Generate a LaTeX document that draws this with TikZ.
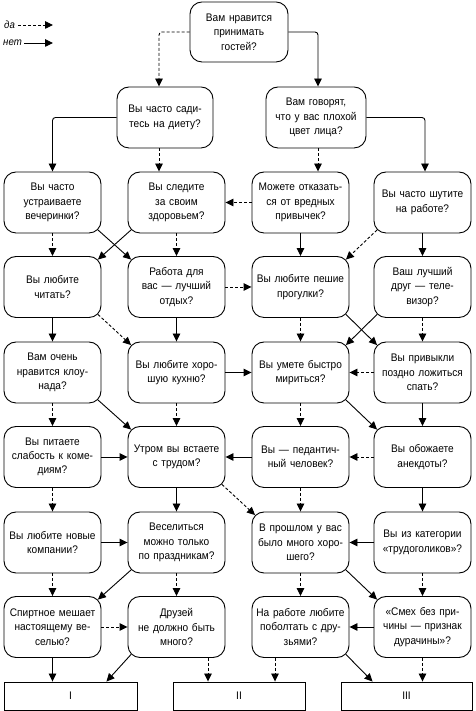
\documentclass[tikz,border=0pt]{standalone}
\usepackage{fontspec}
\setmainfont{Liberation Sans}[FakeStretch=0.92,WordSpace=1.35]
\usetikzlibrary{arrows.meta,calc}
\begin{document}
\begin{tikzpicture}[x=1pt,y=1pt,
  q/.style={draw,line width=0.9pt,rounded corners=12pt,minimum width=97pt,minimum height=61pt,align=center,inner sep=0pt,font=\fontsize{11}{14.3}\selectfont},
  res/.style={draw,line width=0.9pt,minimum height=28pt,inner sep=0pt,font=\fontsize{11}{14}\selectfont},
  con/.style={line width=0.9pt,rounded corners=3pt,-{Triangle[length=8pt,width=7.5pt]}},
  yes/.style={con,dash pattern=on 3pt off 2pt},
  no/.style={con},
  leg/.style={font=\fontsize{10.5}{12}\itshape,inner sep=0pt,anchor=west},
]
\useasboundingbox (0,0) rectangle (475,711);
% legend
\node[leg] (da) at (4,686) {да};
\coordinate (daE) at (53,686);
\node[leg] (net) at (3,668) {нет};
\coordinate (netE) at (53,668);
\draw[yes] ([xshift=3pt]da.east) -- (daE);
\draw[no] ([xshift=2pt]net.east) -- (netE);
% top
\node[q,minimum width=98pt,minimum height=60pt] (top) at (239,679) {Вам нравится\\принимать\\гостей?};
\node[q,minimum width=96pt] (b1) at (165,593.5) {Вы часто сади-\\тесь на диету?};
\node[q,minimum width=100pt] (b2) at (316,593.5) {Вам говорят,\\что у вас плохой\\цвет лица?};
% row 1
\node[q] (r1c1) at (52.5,508.5) {Вы часто\\устраиваете\\вечеринки?};
\node[q] (r1c2) at (176.5,508.5) {Вы следите\\за своим\\здоровьем?};
\node[q] (r1c3) at (300.5,508.5) {Можете отказать-\\ся от вредных\\привычек?};
\node[q] (r1c4) at (422.5,508.5) {Вы часто шутите\\на работе?};
% row 2
\node[q] (r2c1) at (52.5,424) {Вы любите\\читать?};
\node[q] (r2c2) at (176.5,424) {Работа для\\вас — лучший\\отдых?};
\node[q] (r2c3) at (300.5,424) {Вы любите пешие\\прогулки?};
\node[q] (r2c4) at (422.5,424) {Ваш лучший\\друг — теле-\\визор?};
% row 3
\node[q] (r3c1) at (52.5,338.5) {Вам очень\\нравится клоу-\\нада?};
\node[q] (r3c2) at (176.5,338.5) {Вы любите хоро-\\шую кухню?};
\node[q] (r3c3) at (300.5,338.5) {Вы умете быстро\\мириться?};
\node[q] (r3c4) at (422.5,338.5) {Вы привыкли\\поздно ложиться\\спать?};
% row 4
\node[q] (r4c1) at (52.5,254) {Вы питаете\\слабость к коме-\\диям?};
\node[q] (r4c2) at (176.5,254) {Утром вы встаете\\с трудом?};
\node[q] (r4c3) at (300.5,254) {Вы — педантич-\\ный человек?};
\node[q] (r4c4) at (422.5,254) {Вы обожаете\\анекдоты?};
% row 5
\node[q] (r5c1) at (52.5,168.5) {Вы любите новые\\компании?};
\node[q] (r5c2) at (176.5,168.5) {Веселиться\\можно только\\по праздникам?};
\node[q] (r5c3) at (300.5,168.5) {В прошлом у вас\\было много хоро-\\шего?};
\node[q] (r5c4) at (422.5,168.5) {Вы из категории\\«трудоголиков»?};
% row 6
\node[q] (r6c1) at (52.5,84) {Спиртное мешает\\настоящему ве-\\селью?};
\node[q] (r6c2) at (176.5,84) {Друзей\\не должно быть\\много?};
\node[q] (r6c3) at (300.5,84) {На работе любите\\поболтать с дру-\\зьями?};
\node[q] (r6c4) at (422.5,84) {«Смех без при-\\чины — признак\\дурачины»?};
% results
\node[res,minimum width=133pt] (I) at (70.5,15) {I};
\node[res,minimum width=132pt] (II) at (239,15) {II};
\node[res,minimum width=131pt] (III) at (406.5,15) {III};
% connectors top
\draw[yes] (top.west) -| ([xshift=-6pt]b1.north);
\draw[no] (top.east) -| ([xshift=2pt]b2.north);
\draw[no] (b1.west) -| (r1c1.north);
\draw[yes] ([xshift=-6pt]b1.south) -- ([xshift=-6pt]b1.south |- r1c2.north);
\draw[yes] ([xshift=2pt]b2.south) -- ([xshift=2pt]b2.south |- r1c3.north);
\draw[no] (b2.east) -| ([xshift=2.5pt]r1c4.north);
% row 1
\draw[yes] (r1c1.south) -- (r2c1.north);
\draw[no] ($(r1c1.south east)+(-3.5,3.5)$) -- ($(r2c2.north west)+(3.5,-3.5)$);
\draw[yes] (r1c2.south) -- (r2c2.north);
\draw[no] ($(r1c2.south west)+(3.5,3.5)$) -- ($(r2c1.north east)+(-3.5,-3.5)$);
\draw[yes] (r1c3.west) -- (r1c2.east);
\draw[no] (r1c3.south) -- (r2c3.north);
\draw[no] (r1c4.south) -- (r2c4.north);
\draw[yes] ($(r1c4.south west)+(3.5,3.5)$) -- ($(r2c3.north east)+(-3.5,-3.5)$);
% row 2
\draw[no] (r2c1.south) -- (r3c1.north);
\draw[yes] ($(r2c1.south east)+(-3.5,3.5)$) -- ($(r3c2.north west)+(3.5,-3.5)$);
\draw[no] (r2c2.south) -- (r3c2.north);
\draw[yes] (r2c2.east) -- (r2c3.west);
\draw[yes] (r2c3.south) -- (r3c3.north);
\draw[no] ($(r2c3.south east)+(-3.5,3.5)$) -- ($(r3c4.north west)+(3.5,-3.5)$);
\draw[yes] (r2c4.south) -- (r3c4.north);
\draw[no] ($(r2c4.south west)+(3.5,3.5)$) -- ($(r3c3.north east)+(-3.5,-3.5)$);
% row 3
\draw[yes] (r3c1.south) -- (r4c1.north);
\draw[no] ($(r3c1.south east)+(-3.5,3.5)$) -- ($(r4c2.north west)+(3.5,-3.5)$);
\draw[yes] (r3c2.south) -- (r4c2.north);
\draw[no] (r3c2.east) -- (r3c3.west);
\draw[yes] (r3c3.south) -- (r4c3.north);
\draw[no] ($(r3c3.south east)+(-3.5,3.5)$) -- ($(r4c4.north west)+(3.5,-3.5)$);
\draw[no] (r3c4.south) -- (r4c4.north);
\draw[yes] (r3c4.west) -- (r3c3.east);
% row 4
\draw[yes] (r4c1.south) -- (r5c1.north);
\draw[no] (r4c1.east) -- (r4c2.west);
\draw[no] (r4c2.south) -- (r5c2.north);
\draw[yes] ($(r4c2.south east)+(-3.5,3.5)$) -- ($(r5c3.north west)+(3.5,-3.5)$);
\draw[no] (r4c3.west) -- (r4c2.east);
\draw[yes] (r4c3.south) -- (r5c3.north);
\draw[yes] (r4c4.west) -- (r4c3.east);
\draw[no] (r4c4.south) -- (r5c4.north);
% row 5
\draw[yes] (r5c1.south) -- (r6c1.north);
\draw[no] (r5c1.east) -- (r5c2.west);
\draw[yes] (r5c2.south) -- (r6c2.north);
\draw[no] ($(r5c2.south west)+(3.5,3.5)$) -- ($(r6c1.north east)+(-3.5,-3.5)$);
\draw[yes] (r5c3.south) -- (r6c3.north);
\draw[no] ($(r5c3.south east)+(-3.5,3.5)$) -- ($(r6c4.north west)+(3.5,-3.5)$);
\draw[no] (r5c4.west) -- (r5c3.east);
\draw[yes] (r5c4.south) -- (r6c4.north);
% row 6
\draw[no] (r6c1.south) -- (r6c1.south |- I.north);
\draw[yes] (r6c1.east) -- (r6c2.west);
\draw[no] ($(r6c2.south west)+(3.5,3.5)$) -- ($(I.north east)+(-31,0)$);
\draw[yes] ([xshift=31.5pt]r6c2.south) -- ([xshift=31.5pt]r6c2.south |- II.north);
\draw[yes] ([xshift=-25.5pt]r6c3.south) -- ([xshift=-25.5pt]r6c3.south |- II.north);
\draw[no] ($(r6c3.south east)+(-3.5,3.5)$) -- ($(III.north west)+(32,0)$);
\draw[no] (r6c4.west) -- (r6c3.east);
\draw[yes] (r6c4.south) -- (r6c4.south |- III.north);
\end{tikzpicture}
\end{document}
